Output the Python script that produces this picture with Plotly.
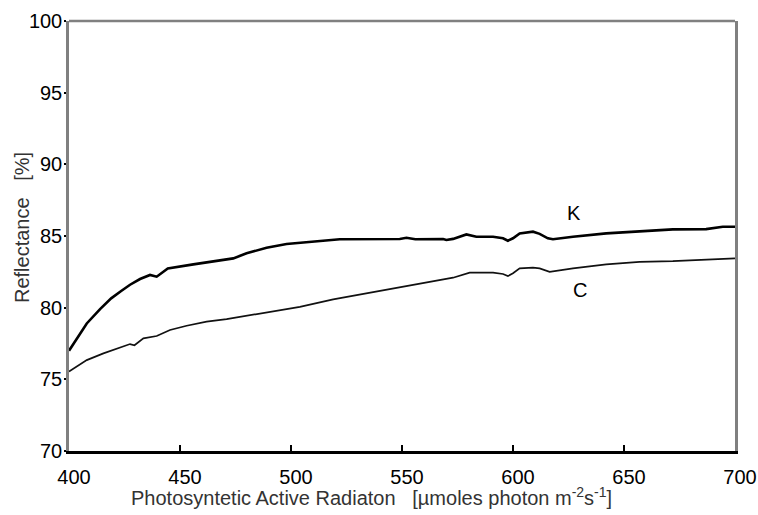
import plotly.graph_objects as go

# Data
k_wl = [400, 403.5, 408, 414, 419, 423.5, 427.5, 432, 436.5, 439.5, 444.5, 456, 465, 474, 480,
        489, 498, 504, 511.5, 522, 549, 552, 556, 568.5, 570, 573, 579, 583.5, 591, 595.5,
        597.7, 600, 603, 609, 612, 615.7, 618, 627, 642, 657, 672, 687, 694.5, 700]
k_val = [77.0, 77.86, 78.9, 79.9, 80.65, 81.16, 81.6, 82.0, 82.28, 82.16, 82.74, 83.02, 83.25, 83.44, 83.79,
         84.18, 84.44, 84.52, 84.67, 84.77, 84.79, 84.88, 84.77, 84.79, 84.72, 84.8, 85.11, 84.95, 84.95, 84.84,
         84.67, 84.84, 85.18, 85.3, 85.15, 84.84, 84.77, 84.95, 85.18, 85.34, 85.46, 85.48, 85.65, 85.65]

c_wl = [400, 403.5, 408, 415.5, 421.5, 427.5, 429.5, 433.5, 439.5, 445.5, 453, 462, 471, 480, 489,
        498, 504, 519, 534, 549, 564, 573, 580.5, 591, 595.5, 597.7, 600, 603, 609, 612, 616.5,
        627, 642, 657, 672, 687, 700]
c_val = [75.55, 75.88, 76.34, 76.81, 77.16, 77.46, 77.38, 77.86, 78.02, 78.44, 78.74, 79.02, 79.2, 79.43, 79.7,
         79.9, 80.06, 80.58, 81.0, 81.46, 81.86, 82.09, 82.44, 82.44, 82.35, 82.2, 82.4, 82.74, 82.79, 82.74, 82.5,
         82.74, 83.02, 83.2, 83.25, 83.37, 83.44]

x_ticks = [400, 450, 500, 550, 600, 650, 700]
y_ticks = [70, 75, 80, 85, 90, 95, 100]

labels = ["K", "C"]
label_x = [627.5, 630]
label_y = [86.6, 81.2]

x_title = "Photosyntetic Active Radiaton\u00a0\u00a0 [µmoles photon m<sup>-2</sup>s<sup>-1</sup>]"
y_title = "Reflectance\u00a0\u00a0 [%]"

font = "Liberation Sans, Arial, sans-serif"

fig = go.Figure()
fig.add_trace(go.Scatter(x=k_wl, y=k_val, mode="lines", name="K",
                         line=dict(color="#000000", width=2.6), showlegend=False))
fig.add_trace(go.Scatter(x=c_wl, y=c_val, mode="lines", name="C",
                         line=dict(color="#111111", width=1.7), showlegend=False))

for t, xv, yv in zip(labels, label_x, label_y):
    fig.add_annotation(x=xv, y=yv, text=t, showarrow=False,
                       font=dict(family=font, size=20, color="#000000"))

# axis titles placed as in the reference
fig.add_annotation(xref="paper", yref="paper", x=0.5, y=0, xanchor="center", yanchor="middle",
                   xshift=-31, yshift=-45, text=x_title, showarrow=False,
                   font=dict(family=font, size=20, color="#333333"))
fig.add_annotation(xref="paper", yref="paper", x=0, y=0.5, xanchor="center", yanchor="middle",
                   xshift=-47, yshift=8, textangle=-90, text=y_title, showarrow=False,
                   font=dict(family=font, size=20, color="#333333"))

# top border (gray)
fig.add_shape(type="line", xref="paper", yref="paper", x0=0, x1=1, y0=1, y1=1,
              line=dict(color="#808080", width=2.5))

fig.update_layout(
    width=758, height=515,
    margin=dict(l=69, r=23, t=21, b=64),
    plot_bgcolor="white", paper_bgcolor="white",
    font=dict(family=font, size=20, color="#000000"),
    xaxis=dict(range=[400, 700], tickvals=x_ticks, ticktext=["\u2002" + str(v) for v in x_ticks],
               automargin=False,
               showgrid=False, zeroline=False, showline=True, linecolor="#000000", linewidth=2.5,
               ticks="inside", ticklen=6, tickwidth=2, tickcolor="#000000",
               ticklabelstandoff=6,
               tickfont=dict(size=20, color="#000000")),
    yaxis=dict(range=[70, 100], tickvals=y_ticks, ticktext=[str(v) for v in y_ticks],
               automargin=False,
               showgrid=False, zeroline=False, showline=True, linecolor="#808080", linewidth=2.5,
               mirror=True,
               ticks="outside", ticklen=2, tickwidth=2, tickcolor="#000000",
               ticklabelstandoff=-2,
               tickfont=dict(size=20, color="#000000")),
)

fig.write_html("out.html", config={"displayModeBar": False},
               post_script="document.body.style.margin='0';document.body.style.overflow='hidden';")
